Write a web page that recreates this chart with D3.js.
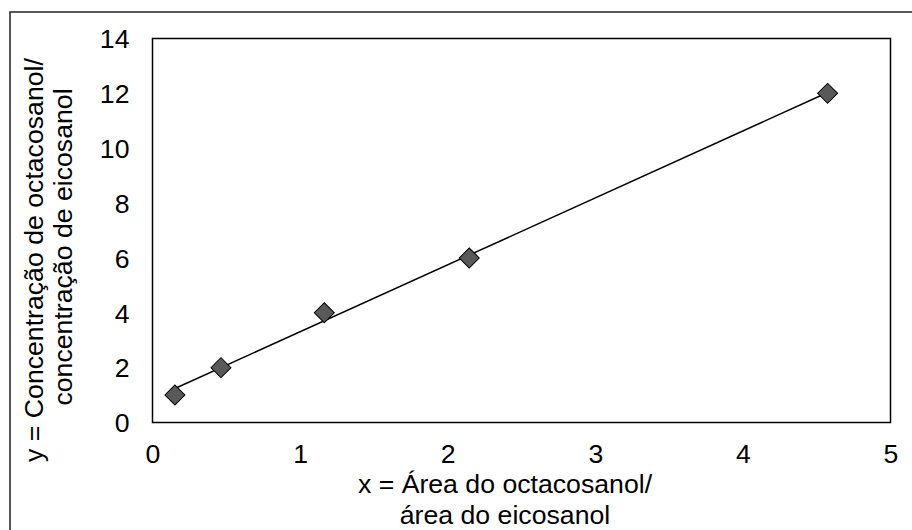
<!DOCTYPE html>
<html>
<head>
<meta charset="utf-8">
<script src="https://cdn.jsdelivr.net/npm/d3@7"></script>
<style>
  html, body { margin: 0; padding: 0; background: #fff; }
  svg text { font-family: "Liberation Sans", Arial, sans-serif; fill: #000; }
</style>
</head>
<body>
<svg id="chart" width="912" height="530"></svg>
<script>
// calibration points
var xVals = [0.152, 0.464, 1.164, 2.146, 4.574];
var yVals = [1, 2, 4, 6, 12];
// linear trend line ends
var trendX = [0.152, 4.574];
var trendY = [1.24, 12.03];
var xTicks = [0, 1, 2, 3, 4, 5];
var yTicks = [0, 2, 4, 6, 8, 10, 12, 14];
var xTitle = ["x = Área do octacosanol/", "área do eicosanol"];
var yTitle = ["y = Concentração de octacosanol/", "concentração de eicosanol"];

window.onload = function(){
    drawChart();
};

function drawChart(){
    let svg = d3.select("#chart");
    let fs = "26.67px";

    // plot area
    let left = 152.5, right = 890.5, top = 38.5, bottom = 422.5;

    let xScale = d3.scaleLinear().domain([0, 5]).range([left, right]);
    let yScale = d3.scaleLinear().domain([0, 14]).range([bottom, top]);

    // outer chart border (runs off right/bottom edge)
    svg.append("rect")
        .attr("x", 10).attr("y", 12)
        .attr("width", 1000).attr("height", 1000)
        .attr("fill", "none").attr("stroke", "#222").attr("stroke-width", 1.5);

    svg.append("rect")
        .attr("x", left).attr("y", top)
        .attr("width", right - left).attr("height", bottom - top)
        .attr("fill", "none").attr("stroke", "#000").attr("stroke-width", 1.5);

    // axes: labels only, no tick marks
    let yAxis = d3.axisLeft(yScale).tickValues(yTicks).tickFormat(d3.format("d"))
        .tickSize(0).tickPadding(23);
    let gy = svg.append("g").attr("transform", "translate(" + left + ",0)").call(yAxis);
    gy.select(".domain").remove();
    gy.selectAll("text").style("font-size", fs).attr("font-family", null).attr("dy", "0.35em");

    let xAxis = d3.axisBottom(xScale).tickValues(xTicks).tickFormat(d3.format("d"))
        .tickSize(0).tickPadding(22);
    let gx = svg.append("g").attr("transform", "translate(0," + bottom + ")").call(xAxis);
    gx.select(".domain").remove();
    gx.selectAll("text").style("font-size", fs).attr("font-family", null).attr("dy", "0.71em");

    // trend line
    let line = d3.line()
        .x(function(d){ return xScale(d[0]); })
        .y(function(d){ return yScale(d[1]); });
    svg.append("path")
        .datum(d3.zip(trendX, trendY))
        .attr("d", line)
        .attr("fill", "none").attr("stroke", "#000").attr("stroke-width", 1.5);

    // diamonds
    let diamond = d3.symbol().type(d3.symbolSquare).size(200);
    svg.selectAll("path.pt").data(d3.zip(xVals, yVals))
        .enter()
        .append("path")
        .attr("class", "pt")
        .attr("d", diamond)
        .attr("transform", function(d){
            return "translate(" + xScale(d[0]) + "," + yScale(d[1]) + ") rotate(45)";
        })
        .attr("fill", "#595959").attr("stroke", "#000").attr("stroke-width", 1);

    // x title, two lines
    let xMid = 505;
    let xBase = [493, 524];
    xTitle.forEach(function(t, i){
        svg.append("text")
            .attr("x", xMid).attr("y", xBase[i])
            .attr("text-anchor", "middle")
            .style("font-size", fs)
            .text(t);
    });

    // y title, two rotated lines
    let yMid = [260, 247];
    let yBase = [43, 72];
    yTitle.forEach(function(t, i){
        svg.append("text")
            .attr("transform", "translate(" + yBase[i] + "," + yMid[i] + ") rotate(-90)")
            .attr("text-anchor", "middle")
            .style("font-size", fs)
            .text(t);
    });
}
</script>
</body>
</html>
